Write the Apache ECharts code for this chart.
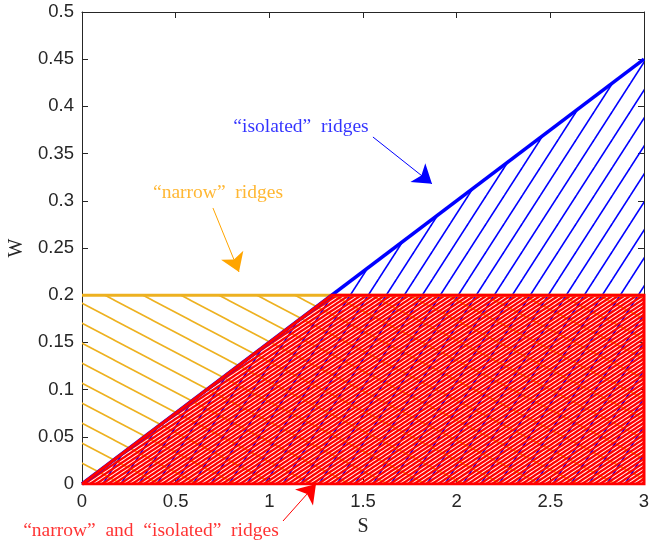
<!DOCTYPE html>
<html>
<head>
<meta charset="utf-8">
<script src="https://cdn.jsdelivr.net/npm/echarts@6/dist/echarts.min.js"></script>
<style>
html,body{margin:0;padding:0;background:#fff;}
#chart{width:650px;height:547px;}
</style>
</head>
<body>
<div id="chart"></div>
<script>
// ---- data ----
const sRange = [0, 3];
const wRange = [0, 0.5];
const sInterval = 0.5;
const wInterval = 0.05;
const isolatedBoundary = [[0, 0], [3, 0.45]];               // W = 0.15 S
const narrowBoundary = [[0, 0.2], [3, 0.2]];                // W = 0.2
const bothTop = [[0, 0], [1.3333, 0.2], [3, 0.2]];          // intersection upper edge
const bothOutline = [[0, 0], [1.3333, 0.2], [3, 0.2], [3, 0], [0, 0]];
const labelIsolated = ['\u201Cisolated\u201D  ridges', 1.169, 0.378];
const labelNarrow = ['\u201Cnarrow\u201D  ridges', 0.726, 0.308];
const labelBoth = ['\u201Cnarrow\u201D  and  \u201Cisolated\u201D  ridges', 0.368, -0.050];
const arrowIsolated = [[1.553, 0.3676], [1.868, 0.318]];
const arrowNarrow = [[0.699, 0.2924], [0.838, 0.2246]];
const arrowBoth = [[1.073, -0.0392], [1.249, 0.0]];

// ---- hatch patterns (style only) ----
function hatch(hs, vs, color, lw, up) {
  const c = document.createElement('canvas');
  c.width = hs; c.height = vs;
  const ctx = c.getContext('2d');
  ctx.strokeStyle = color; ctx.lineWidth = lw;
  for (let k = -3; k <= 4; k++) {
    ctx.beginPath();
    if (up) {
      ctx.moveTo(k * hs + hs, -vs);
      ctx.lineTo(k * hs - 2 * hs, 2 * vs);
    } else {
      ctx.moveTo(k * hs - hs, -vs);
      ctx.lineTo(k * hs + 2 * hs, 2 * vs);
    }
    ctx.stroke();
  }
  return { image: c, repeat: 'repeat' };
}
const orangeHatch = hatch(38, 20, '#EDB120', 1.6, false);
const blueHatch = hatch(18, 28, '#0000FF', 1.6, true);
const redHatch = hatch(6, 4, '#FF0000', 2.3, true);

const chart = echarts.init(document.getElementById('chart'));
const axisColor = '#262626';
const tickFont = { fontFamily: 'Liberation Sans, Arial, sans-serif', fontSize: 18.5, color: axisColor };
const serif = 'Liberation Serif, Times New Roman, serif';
const axLine = { show: true, onZero: false, lineStyle: { color: axisColor, width: 1 } };
const axTick = { show: true, inside: true, length: 6, lineStyle: { color: axisColor } };

function textSeries(lbl, color) {
  return {
    type: 'scatter', xAxisIndex: 0, yAxisIndex: 0, clip: false, z: 10,
    symbolSize: 1, itemStyle: { color: 'rgba(0,0,0,0)' },
    data: [[lbl[1], lbl[2]]],
    label: { show: true, position: 'inside', formatter: lbl[0], color: color,
      fontFamily: serif, fontSize: 19.5 },
    silent: true
  };
}
function arrowSeries(coords, color, width, size) {
  return {
    type: 'lines', coordinateSystem: 'cartesian2d', xAxisIndex: 0, yAxisIndex: 0,
    clip: false, z: 10, symbol: ['none', 'arrow'], symbolSize: size,
    lineStyle: { color: color, width: width, opacity: 1, curveness: 0 },
    data: [{ coords: coords }], silent: true
  };
}

chart.setOption({
  animation: false,
  backgroundColor: '#fff',
  grid: { left: 82, right: 6, top: 12, bottom: 63, outerBoundsMode: 'none', containLabel: false },
  xAxis: [
    { type: 'value', min: sRange[0], max: sRange[1], interval: sInterval, position: 'bottom',
      name: 'S', nameLocation: 'middle', nameGap: 33,
      nameTextStyle: { fontFamily: serif, fontSize: 20, color: axisColor },
      axisLine: axLine, axisTick: axTick,
      axisLabel: Object.assign({ margin: 8 }, tickFont),
      splitLine: { show: false } },
    { type: 'value', min: sRange[0], max: sRange[1], interval: sInterval, position: 'top',
      axisLine: axLine, axisTick: axTick,
      axisLabel: { show: false }, splitLine: { show: false } }
  ],
  yAxis: [
    { type: 'value', min: wRange[0], max: wRange[1], interval: wInterval, position: 'left',
      name: 'W', nameLocation: 'middle', nameGap: 52, nameRotate: 90,
      nameTextStyle: { fontFamily: serif, fontSize: 20, color: axisColor },
      axisLine: axLine, axisTick: axTick,
      axisLabel: Object.assign({ margin: 8 }, tickFont),
      splitLine: { show: false } },
    { type: 'value', min: wRange[0], max: wRange[1], interval: wInterval, position: 'right',
      axisLine: axLine, axisTick: axTick,
      axisLabel: { show: false }, splitLine: { show: false } }
  ],
  series: [
    { type: 'line', xAxisIndex: 0, yAxisIndex: 0, data: narrowBoundary, symbol: 'none', z: 2,
      lineStyle: { width: 0 }, areaStyle: { color: orangeHatch, opacity: 1 }, silent: true },
    { type: 'line', xAxisIndex: 0, yAxisIndex: 0, data: isolatedBoundary, symbol: 'none', z: 3,
      lineStyle: { width: 0 }, areaStyle: { color: blueHatch, opacity: 1 }, silent: true },
    { type: 'line', xAxisIndex: 0, yAxisIndex: 0, data: bothTop, symbol: 'none', z: 4,
      lineStyle: { width: 0 }, areaStyle: { color: redHatch, opacity: 1 }, silent: true },
    { type: 'line', xAxisIndex: 0, yAxisIndex: 0, data: narrowBoundary, symbol: 'none', z: 5,
      lineStyle: { width: 3, color: '#EDB120' }, silent: true },
    { type: 'line', xAxisIndex: 0, yAxisIndex: 0, data: isolatedBoundary, symbol: 'none', z: 5,
      lineStyle: { width: 3.5, color: '#0000FF' }, silent: true },
    { type: 'line', xAxisIndex: 0, yAxisIndex: 0, data: bothOutline, symbol: 'none', z: 6,
      lineStyle: { width: 3, color: '#FF0000', join: 'miter' }, silent: true },
    textSeries(labelIsolated, '#0000FF'),
    textSeries(labelNarrow, '#FFA500'),
    textSeries(labelBoth, '#FF0000'),
    arrowSeries(arrowIsolated, '#0000FF', 1, 18),
    arrowSeries(arrowNarrow, '#FFA500', 1, 18),
    arrowSeries(arrowBoth, '#FF0000', 1, 18)
  ]
});
</script>
</body>
</html>
